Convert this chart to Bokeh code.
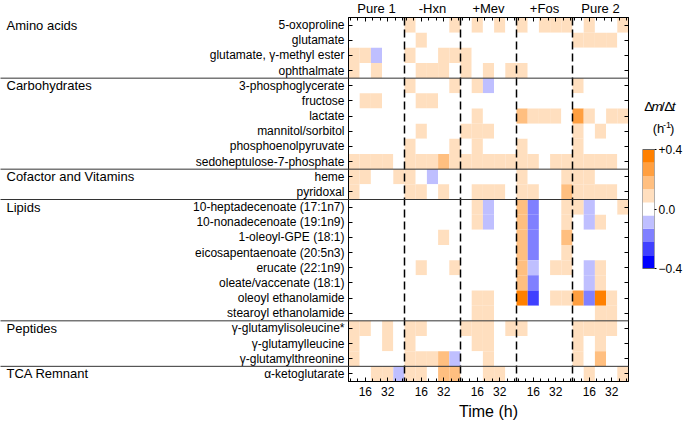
from bokeh.plotting import figure
from bokeh.models import (Range1d, FixedTicker, LinearAxis, LinearColorMapper,
                          ColumnDataSource, Span)
from bokeh.transform import transform
from bokeh.layouts import row
from bokeh.embed import file_html
from bokeh.resources import INLINE
from bokeh.core.properties import value
import numpy as np

# ---------------- data ----------------
conditions = ["Pure 1", "-Hxn", "+Mev", "+Fos", "Pure 2"]
times = [8, 16, 24, 32, 40]          # h, centre of each sampling interval
tick_label_times = [16, 32]
minor_tick_times = [5.33, 10.67, 21.33, 26.67, 37.33, 42.67]

categories = ["Amino acids", "Carbohydrates", "Cofactor and Vitamins",
              "Lipids", "Peptides", "TCA Remnant"]
category_sizes = [4, 6, 2, 8, 3, 1]

metabolites = [
    "5-oxoproline", "glutamate", "glutamate, \u03b3-methyl ester", "ophthalmate",
    "3-phosphoglycerate", "fructose", "lactate", "mannitol/sorbitol",
    "phosphoenolpyruvate", "sedoheptulose-7-phosphate",
    "heme", "pyridoxal",
    "10-heptadecenoate (17:1n7)", "10-nonadecenoate (19:1n9)", "1-oleoyl-GPE (18:1)",
    "eicosapentaenoate (20:5n3)", "erucate (22:1n9)", "oleate/vaccenate (18:1)",
    "oleoyl ethanolamide", "stearoyl ethanolamide",
    "\u03b3-glutamylisoleucine*", "\u03b3-glutamylleucine", "\u03b3-glutamylthreonine",
    "\u03b1-ketoglutarate",
]

# rate dm/dt (h^-1); per row: Pure 1 | -Hxn | +Mev | +Fos | Pure 2 (5 times each)
amino_acid_rates = [
    [0, 0, 0, 0, 0,   .09, 0, 0, 0, .09,   0, .09, 0, .09, 0,   .09, 0, .09, .09, .09,   0, .09, 0, 0, .09],
    [0, 0, 0, 0, 0,   0, .09, 0, 0, 0,     0, 0, 0, 0, 0,       0, 0, 0, 0, 0,           .09, .09, .09, .09, 0],
    [.09, .09, -.09, 0, 0,  .09, 0, 0, .09, .09,  .09, 0, 0, 0, 0,  0, 0, 0, 0, 0,      0, 0, 0, 0, 0],
    [.09, 0, .09, 0, 0,  0, .09, .09, .09, 0,  .09, 0, .09, 0, .09,  .09, 0, 0, 0, 0,    0, 0, 0, 0, 0],
]
carbohydrate_rates = [
    [0, 0, 0, 0, 0,   .09, 0, 0, 0, .09,   0, .09, -.09, 0, 0,  0, 0, 0, 0, 0,        .09, 0, 0, 0, 0],
    [0, .09, .09, 0, 0,  0, .09, .09, 0, 0,  0, 0, 0, 0, 0,     0, 0, 0, 0, 0,         0, 0, 0, 0, 0],
    [0, 0, 0, 0, 0,   0, 0, 0, 0, 0,       0, .09, 0, 0, 0,     .18, .09, .09, .09, 0,  .27, .09, 0, .09, .09],
    [0, 0, 0, 0, 0,   0, .09, 0, 0, 0,     .09, .09, .09, 0, 0,  0, 0, 0, 0, 0,        .09, 0, .09, 0, 0],
    [0, 0, 0, 0, 0,   .09, 0, 0, 0, .09,   0, .09, 0, 0, 0,     .09, 0, 0, 0, 0,       .09, 0, 0, 0, 0],
    [.09, .09, .09, .09, 0,  .09, .09, .09, .18, .09,  .09, .09, .09, .09, .09,  .09, .09, 0, .09, .09,  .09, .09, .09, .09, 0],
]
cofactor_rates = [
    [.09, .09, 0, 0, .09,  .09, 0, -.09, 0, 0,  0, 0, 0, 0, 0,  .09, 0, 0, 0, .09,  .09, .09, 0, 0, 0],
    [.09, 0, 0, 0, 0,  .09, .09, 0, .09, 0,  0, .09, .09, .09, 0,  .09, .09, 0, 0, .18,  .09, .09, .09, .09, 0],
]
lipid_rates = [
    [0, 0, 0, 0, 0,  0, 0, 0, 0, 0,  0, .09, -.09, 0, 0,  .18, -.18, 0, 0, .09,  .09, -.09, 0, 0, .09],
    [0, 0, 0, 0, 0,  0, 0, 0, 0, 0,  0, .09, -.09, 0, 0,  .18, -.18, 0, 0, .09,  0, -.09, .09, 0, 0],
    [0, 0, 0, 0, 0,  0, 0, 0, .09, 0,  0, 0, 0, 0, 0,    .18, -.18, 0, 0, .18,  0, 0, 0, 0, 0],
    [0, 0, 0, 0, 0,  0, 0, 0, 0, 0,  0, 0, 0, 0, 0,      .18, -.18, 0, 0, .09,  0, 0, 0, 0, 0],
    [0, 0, 0, 0, 0,  0, .09, 0, 0, .09,  0, 0, 0, 0, 0,  .18, -.09, 0, .09, .09,  0, -.09, .09, 0, 0],
    [0, 0, 0, 0, 0,  0, 0, 0, 0, 0,  0, 0, 0, 0, 0,      .18, -.18, 0, 0, 0,  0, -.09, .09, 0, 0],
    [0, 0, 0, 0, 0,  0, 0, 0, 0, 0,  0, .09, .09, 0, 0,  .36, -.27, 0, .09, .09,  .27, -.18, .36, .09, 0],
    [0, 0, 0, 0, 0,  0, 0, 0, 0, 0,  0, .09, .09, 0, 0,  0, 0, 0, 0, 0,  0, 0, .09, .09, 0],
]
peptide_rates = [
    [.09, .09, 0, .09, 0,  .09, .09, 0, 0, 0,  .09, .09, .09, 0, .09,  .09, 0, 0, 0, 0,  .09, .09, .09, .09, 0],
    [.09, 0, 0, .09, 0,  .09, 0, 0, 0, 0,  0, .09, .09, 0, 0,  0, 0, 0, 0, 0,  .09, 0, .09, 0, 0],
    [.09, 0, 0, 0, 0,  .09, .09, .09, .18, -.09,  0, 0, .09, 0, 0,  0, 0, 0, 0, 0,  .09, 0, .18, 0, 0],
]
tca_rates = [
    [0, 0, .09, .09, -.09,  .09, .09, 0, .18, .18,  0, 0, .09, .09, 0,  0, 0, 0, 0, 0,  0, .09, 0, 0, .09],
]
rates = (amino_acid_rates + carbohydrate_rates + cofactor_rates +
         lipid_rates + peptide_rates + tca_rates)

palette = ["#0000FF", "#4040FF", "#8080FF", "#BFBFFF", "#FFFFFF",
           "#FFDFBF", "#FFBF80", "#FF9F40", "#FF8000"]
rate_low, rate_high = -0.4, 0.4
bar_labels = {rate_high: "+0.4", 0: "0.0", rate_low: "\u22120.4"}

# ---------------- geometry helpers ----------------
FONT = "Liberation Sans"
t_start, t_end = 4, 44
span = t_end - t_start
n_groups = len(conditions)
n_rows = len(metabolites)

def xpos(g, t):
    return g * span + (t - t_start)

xs, ys, vs = [], [], []
for r, vals in enumerate(rates):
    for g in range(n_groups):
        for j, t in enumerate(times):
            xs.append(xpos(g, t))
            ys.append(-r)
            vs.append(vals[g * len(times) + j])
src = ColumnDataSource(dict(x=xs, y=ys, v=vs))
mapper = LinearColorMapper(palette=palette, low=rate_low, high=rate_high)

TOTAL_W, H = 685, 422
FRAME_L, FRAME_R, FRAME_T, FRAME_B = 348, 628, 17, 381
BR = 6
W = FRAME_R + BR
BL, BT, BB = FRAME_L, FRAME_T, H - FRAME_B
p = figure(width=W, height=H, x_range=Range1d(0, n_groups * span),
           y_range=Range1d(-n_rows + 0.5, 0.5), output_backend="svg",
           toolbar_location=None, x_axis_location=None, y_axis_location=None,
           min_border_left=BL, min_border_right=BR, min_border_top=BT,
           min_border_bottom=BB)
p.outline_line_color = "black"
p.background_fill_color = "white"
p.grid.visible = False

p.rect(x="x", y="y", width=times[1] - times[0], height=1, source=src,
       fill_color=transform("v", mapper), line_color=None)

# axes
major_x = [xpos(g, t) for g in range(n_groups) for t in tick_label_times]
minor_x = [xpos(g, t) for g in range(n_groups) for t in minor_tick_times]
bottom = LinearAxis(ticker=FixedTicker(ticks=major_x, minor_ticks=minor_x),
                    major_label_overrides={xpos(g, t): str(t) for g in range(n_groups) for t in tick_label_times})
top = LinearAxis(ticker=FixedTicker(ticks=major_x, minor_ticks=minor_x),
                 major_label_overrides={x: "" for x in major_x})
rows_y = [-r for r in range(n_rows)]
left = LinearAxis(ticker=FixedTicker(ticks=rows_y, minor_ticks=[]),
                  major_label_overrides={-r: m for r, m in enumerate(metabolites)})
right = LinearAxis(ticker=FixedTicker(ticks=rows_y, minor_ticks=[]),
                   major_label_overrides={-r: "" for r in range(n_rows)})
for ax in (bottom, top, left, right):
    ax.axis_line_color = "black"
    ax.major_tick_line_color = "black"
    ax.minor_tick_line_color = "black"
    ax.major_tick_out = 0
    ax.minor_tick_out = 0
    ax.major_tick_in = 4
    ax.minor_tick_in = 3
    ax.major_label_text_font = FONT
    ax.major_label_text_color = "black"
    ax.major_label_text_font_size = "12px"
bottom.major_label_standoff = 5
top.major_label_text_font_size = "1px"
top.major_label_standoff = 0
right.major_label_text_font_size = "1px"
right.major_label_standoff = 0
left.major_label_standoff = 4
p.add_layout(bottom, "below")
p.add_layout(top, "above")
p.add_layout(left, "left")
p.add_layout(right, "right")

for g in range(1, n_groups):
    p.add_layout(Span(location=g * span, dimension="height", line_color="black",
                      line_dash="8 4", line_width=1.5))

# texts and separators outside the frame (drawn at overlay level, not clipped)
px_x = (FRAME_R - FRAME_L) / (n_groups * span)
px_y = (FRAME_B - FRAME_T) / n_rows
x_canvas_left = -FRAME_L / px_x
bounds = np.cumsum(category_sizes)
starts = np.concatenate([[0], bounds[:-1]])
p.segment(x0=[x_canvas_left] * (len(bounds) - 1), x1=[n_groups * span] * (len(bounds) - 1),
          y0=[-b + 0.5 for b in bounds[:-1]], y1=[-b + 0.5 for b in bounds[:-1]],
          line_color="#333333", line_width=1, level="overlay")
p.text(x=[(6 - FRAME_L) / px_x] * len(categories), y=[-s for s in starts], text=categories,
       text_font=value(FONT), text_font_size="13px", text_baseline="middle",
       text_align="left", text_color="black", level="overlay")
# condition names above the panels
y_cond = 0.5 + (FRAME_T - 8) / px_y
p.text(x=[xpos(g, (t_start + t_end) / 2) for g in range(n_groups)], y=[y_cond] * n_groups,
       text=conditions, text_font=value(FONT), text_font_size="13px",
       text_baseline="middle", text_align="center", text_color="black", level="overlay")
# x axis title
y_time = -n_rows + 0.5 - (411 - FRAME_B) / px_y
p.text(x=[n_groups * span / 2], y=[y_time], text=["Time (h)"], text_font=value(FONT),
       text_font_size="16px", text_baseline="middle", text_align="center",
       text_color="black", level="overlay")

# ---------------- colour bar (same top/bottom borders as the heatmap) ----------------
LW = TOTAL_W - W
BAR_L, BAR_W = 642, 14
BAR_T, BAR_B = 149, 268
ppu_y = (BAR_B - BAR_T) / (rate_high - rate_low)
y_hi = rate_high + (BAR_T - FRAME_T) / ppu_y
y_lo = rate_low - (FRAME_B - BAR_B) / ppu_y
leg = figure(width=LW, height=H, x_range=Range1d(0, 1), y_range=Range1d(y_lo, y_hi),
             output_backend="svg", toolbar_location=None, x_axis_location=None,
             y_axis_location=None, min_border_left=BAR_L - W, min_border_right=LW - (BAR_L - W) - BAR_W,
             min_border_top=BT, min_border_bottom=BB)
leg.outline_line_color = None
leg.grid.visible = False
edges = np.linspace(rate_low, rate_high, len(palette) + 1)
leg.quad(left=0, right=1, bottom=edges[:-1], top=edges[1:], fill_color=palette, line_color=None)
leg.quad(left=0, right=1, bottom=rate_low, top=rate_high, fill_color=None,
         line_color="#666666", line_width=1)
cax = LinearAxis(ticker=FixedTicker(ticks=[rate_low, 0, rate_high], minor_ticks=[]),
                 major_label_overrides=bar_labels)
cax.axis_line_color = None
cax.major_tick_in = 0
cax.major_tick_out = 2
cax.major_label_standoff = 2
cax.major_label_text_font = FONT
cax.major_label_text_font_size = "12px"
cax.major_label_text_color = "black"
leg.add_layout(cax, "right")

ppu_x = float(BAR_W)
def lx(px):
    return (px - BAR_L) / ppu_x
def ly(py):
    return rate_high + (BAR_T - py) / ppu_y
leg.text(x=[lx(644), lx(652.6), lx(663.6), lx(667.4), lx(676.2)], y=[ly(106)] * 5,
         text=["\u0394", "m", "/", "\u0394", "t"], text_font=value(FONT), text_font_size="13.5px",
         text_font_style=["normal", "italic", "normal", "normal", "italic"],
         text_baseline="middle", text_color="black", level="overlay")
leg.text(x=[lx(654), lx(665.8), lx(674)], y=[ly(128), ly(124), ly(128)],
         text=["(h", "-1", ")"], text_font=value(FONT),
         text_font_size=["13px", "9px", "13px"], text_baseline="middle",
         text_color="black", level="overlay")

layout = row(p, leg)
open("out.html", "w").write(file_html(layout, INLINE))
